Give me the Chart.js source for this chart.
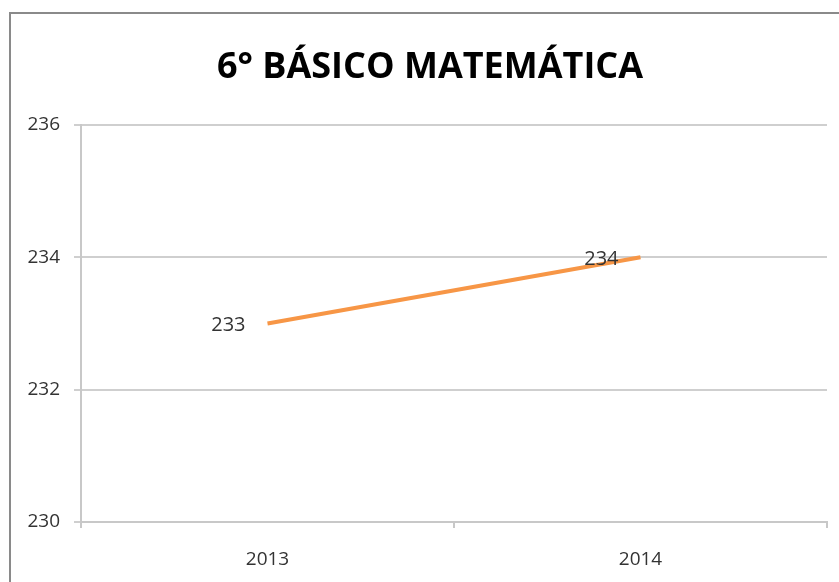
<!DOCTYPE html>
<html>
<head>
<meta charset="utf-8">
<script src="https://cdn.jsdelivr.net/npm/chart.js@4"></script>
<style>
  body { margin: 0; background: #fff; }
  #wrap { position: relative; width: 839px; height: 582px; overflow: hidden; }
  #frame { position: absolute; left: 9px; top: 12px; width: 850px; height: 600px;
           border-left: 2px solid #8a8a8a; border-top: 2px solid #8a8a8a; }
  canvas { position: absolute; left: 0; top: 0; }
</style>
</head>
<body>
<div id="wrap">
  <div id="frame"></div>
  <canvas id="chart" width="839" height="582"></canvas>
</div>
<script>
const titulo = "6° BÁSICO MATEMÁTICA";
const years = ["2013", "2014"];
const puntajes = [233, 234];
const yTicks = [230, 232, 234, 236];

// titulo centrado sobre todo el recuadro y etiquetas de datos a la izquierda del punto
const etiquetas = {
  id: "etiquetas",
  afterDatasetsDraw(chart) {
    const ctx = chart.ctx;
    const meta = chart.getDatasetMeta(0);
    ctx.save();
    ctx.font = "20px 'Open Sans'";
    ctx.fillStyle = "#333";
    ctx.textAlign = "right";
    ctx.textBaseline = "middle";
    meta.data.forEach((pt, i) => {
      ctx.fillText(String(puntajes[i]), pt.x - 22, pt.y + 2);
    });
    ctx.font = "bold 36px 'Open Sans'";
    ctx.fillStyle = "#000";
    ctx.textAlign = "center";
    ctx.fillText(titulo, 430, 68);
    ctx.restore();
  }
};

new Chart(document.getElementById("chart"), {
  type: "line",
  data: {
    labels: years,
    datasets: [
      {
        label: titulo,
        data: puntajes,
        borderColor: "#f79646",
        borderWidth: 4,
        pointRadius: 0,
        tension: 0,
      },
    ],
  },
  options: {
    responsive: false,
    animation: false,
    layout: { padding: { left: 0, right: 12, top: 125, bottom: 0 } },
    plugins: {
      legend: { display: false },
      tooltip: { enabled: false },
      title: { display: false },
    },
    scales: {
      x: {
        offset: true,
        grid: { offset: true, drawOnChartArea: false, drawTicks: true, tickLength: 6, color: "#c8c8c8", lineWidth: 2 },
        border: { color: "#c8c8c8", width: 2 },
        ticks: { color: "#333", padding: 20, font: { family: "'Open Sans'", size: 19 } },
        afterFit(scale) { scale.height = 60; },
      },
      y: {
        min: 230,
        max: 236,
        afterBuildTicks(scale) { scale.ticks = yTicks.map(v => ({ value: v })); },
        grid: { color: "#cfcfcf", lineWidth: 2, tickLength: 7 },
        border: { color: "#c8c8c8", width: 2 },
        ticks: { color: "#333", padding: 14, font: { family: "'Open Sans'", size: 19 } },
        afterFit(scale) { scale.width = 81; },
      },
    },
  },
  plugins: [etiquetas],
});
</script>
</body>
</html>
